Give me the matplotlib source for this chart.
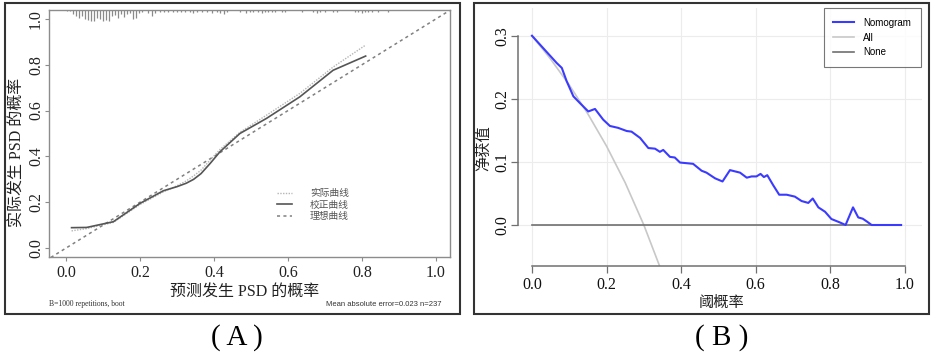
import matplotlib
matplotlib.use("Agg")
import matplotlib.pyplot as plt
from matplotlib.patches import Rectangle

plt.rcParams['font.family'] = ['Liberation Serif', 'Noto Sans CJK SC']

# ---- (A) calibration curve ----
cal_pred = [0.015, 0.056, 0.128, 0.2, 0.263, 0.30, 0.325, 0.345, 0.365, 0.39, 0.416,
            0.47, 0.542, 0.632, 0.722, 0.81]
cal_corrected = [0.089, 0.09, 0.115, 0.195, 0.25, 0.268, 0.283, 0.3, 0.325, 0.37, 0.42,
                 0.5, 0.566, 0.66, 0.776, 0.838]
cal_apparent = [0.075, 0.085, 0.112, 0.19, 0.245, 0.272, 0.293, 0.315, 0.34, 0.385, 0.43,
                0.505, 0.58, 0.675, 0.79, 0.886]

# distribution of predicted probabilities (spikes at the top)
rug_x = [0.002, 0.011, 0.020, 0.027, 0.035, 0.043, 0.051, 0.059, 0.068, 0.076,
         0.084, 0.092, 0.101, 0.109, 0.117, 0.125, 0.133, 0.141, 0.149, 0.157,
         0.165, 0.173, 0.181, 0.188, 0.196, 0.205, 0.221, 0.232, 0.241, 0.254,
         0.265, 0.277, 0.288, 0.299, 0.310, 0.322, 0.335, 0.344, 0.355, 0.367,
         0.380, 0.394, 0.407, 0.416, 0.427, 0.434,
         0.470, 0.486, 0.497, 0.506, 0.520, 0.529, 0.538, 0.547, 0.556, 0.565,
         0.583, 0.592, 0.637, 0.668, 0.678, 0.686, 0.700, 0.723, 0.732, 0.781,
         0.790, 0.799, 0.808, 0.817, 0.826, 0.844, 0.871]
rug_h = [0.004, 0.006, 0.019, 0.026, 0.034, 0.026, 0.041, 0.044, 0.048, 0.048,
         0.034, 0.038, 0.048, 0.044, 0.048, 0.026, 0.023, 0.034, 0.019, 0.029,
         0.019, 0.015, 0.041, 0.034, 0.015, 0.007, 0.012, 0.026, 0.015, 0.009,
         0.007, 0.007, 0.007, 0.007, 0.007, 0.007, 0.007, 0.012, 0.007, 0.009,
         0.007, 0.012, 0.007, 0.015, 0.019, 0.007,
         0.008, 0.011, 0.008, 0.008, 0.008, 0.011, 0.008, 0.008, 0.008, 0.008,
         0.008, 0.008, 0.008, 0.008, 0.011, 0.008, 0.008, 0.008, 0.008, 0.008,
         0.008, 0.011, 0.008, 0.008, 0.008, 0.008, 0.008]

# ---- (B) decision curve ----
thr = [0.0, 0.066, 0.08, 0.093, 0.111, 0.129, 0.151, 0.169, 0.191, 0.209,
       0.231, 0.254, 0.267, 0.29, 0.312, 0.33, 0.343, 0.352, 0.37, 0.383,
       0.397, 0.432, 0.455, 0.468, 0.491, 0.511, 0.531, 0.558, 0.576, 0.589,
       0.602, 0.613, 0.622, 0.631, 0.647, 0.663, 0.683, 0.705, 0.723, 0.741,
       0.753, 0.768, 0.786, 0.803, 0.826, 0.841, 0.861, 0.875, 0.887, 0.897,
       0.911, 0.99]
nb_nomogram = [0.30, 0.257, 0.249, 0.228, 0.204, 0.193, 0.18, 0.184, 0.167, 0.157,
               0.154, 0.149, 0.148, 0.138, 0.122, 0.121, 0.116, 0.119, 0.108, 0.107,
               0.099, 0.097, 0.086, 0.083, 0.074, 0.069, 0.087, 0.083, 0.075, 0.077,
               0.077, 0.081, 0.076, 0.079, 0.063, 0.048, 0.048, 0.045, 0.038, 0.035,
               0.042, 0.028, 0.021, 0.0095, 0.004, 0.0, 0.028, 0.012, 0.010, 0.006,
               0.0, 0.0]
thr_all = [0.0, 0.05, 0.1, 0.15, 0.2, 0.25, 0.3, 0.35]
nb_all = [0.3, 0.263, 0.222, 0.176, 0.125, 0.067, 0.0, -0.077]
thr_none = [0.0, 0.99]
nb_none = [0.0, 0.0]

ticks01 = [0.0, 0.2, 0.4, 0.6, 0.8, 1.0]
ticks_nb = [0.0, 0.1, 0.2, 0.3]

W, H = 935, 361
fig = plt.figure(figsize=(W / 100, H / 100), dpi=100)


def box(l, t, r, b):
    # pixel box -> figure fraction rect
    return [l / W, 1 - b / H, (r - l) / W, (b - t) / H]


# panel frames
for l, r in [(5, 460), (474, 929)]:
    fig.patches.append(Rectangle((l / W, 1 - 314 / H), (r - l) / W, 311 / H,
                                 transform=fig.transFigure, fill=False,
                                 edgecolor='#333333', lw=1.5))

# ---------- A ----------
ax = fig.add_axes(box(49, 10, 450, 257))
ax.set_xlim(-0.046, 1.038)
ax.set_ylim(-0.039, 1.039)
ax.plot([-0.1, 1.1], [-0.1, 1.1], color='#808080', lw=1.1, ls=(0, (2, 2.2)), label='理想曲线')
ax.plot(cal_pred, cal_apparent, color='#b5b5b5', lw=1.0, ls=(0, (1, 1)), label='实际曲线')
ax.plot(cal_pred, cal_corrected, color='#555555', lw=1.2, label='校正曲线')
top = ax.get_ylim()[1]
ax.vlines(rug_x, [top - h for h in rug_h], top, color='#8a8a8a', lw=0.9)

for s in ax.spines.values():
    s.set_color('#8c8c8c')
    s.set_linewidth(1.0)
ax.set_xticks(ticks01)
ax.set_yticks(ticks01)
ax.set_xticklabels(['%.1f' % t for t in ticks01])
ax.set_yticklabels(['%.1f' % t for t in ticks01], rotation=90, va='center')
ax.tick_params(length=3, width=0.8, color='#8c8c8c', labelsize=11.5,
               labelcolor='#222222', pad=0.5)
ax.tick_params(axis='x', pad=3)

ax.set_xlabel('预测发生 PSD 的概率', fontsize=11.5, color='#222222', va='center')
ax.xaxis.set_label_coords((245 - 49) / 401, (257 - 292) / 247)
ax.set_ylabel('实际发生 PSD 的概率', fontsize=11.5, color='#222222', va='center')
ax.yaxis.set_label_coords((18 - 49) / 401, (257 - 152) / 247)

h = ax.get_legend_handles_labels()[0]
ax.legend([h[1], h[2], h[0]], ['实际曲线', '校正曲线', '理想曲线'], frameon=False,
          loc='upper left', bbox_to_anchor=(272 / W, 1 - 184 / H),
          bbox_transform=fig.transFigure, fontsize=7, handlelength=1.6,
          handletextpad=1.8, labelspacing=0.25, borderpad=0, labelcolor='#555555')

fig.text(49 / W, 1 - 304 / H, 'B=1000 repetitions, boot', fontsize=5.5,
         color='#333333', va='center', ha='left')
fig.text(441 / W, 1 - 304 / H, 'Mean absolute error=0.023 n=237', fontsize=5.5,
         color='#333333', va='center', ha='right', family='Liberation Sans')

# ---------- B ----------
bx = fig.add_axes(box(518, 8, 922, 266))
bx.set_xlim(-0.0375, 1.046)
bx.set_ylim(-0.065, 0.344)
bx.grid(True, color='#ececec', lw=0.8)
bx.set_axisbelow(True)
bx.plot(thr_all, nb_all, color='#c8c8c8', lw=1.2, label='All')
bx.plot(thr_none, nb_none, color='#707070', lw=1.2, label='None')
bx.plot(thr, nb_nomogram, color='#3b3bff', lw=1.5, label='Nomogram')

for k in ['top', 'right']:
    bx.spines[k].set_visible(False)
for k in ['left', 'bottom']:
    bx.spines[k].set_color('#707070')
    bx.spines[k].set_linewidth(1.1)
bx.spines['bottom'].set_bounds(0, 1)
bx.spines['left'].set_bounds(0, 0.3)
bx.set_xticks(ticks01)
bx.set_yticks(ticks_nb)
bx.set_xticklabels(['%.1f' % t for t in ticks01])
bx.set_yticklabels(['%.1f' % t for t in ticks_nb], rotation=90, va='center')
bx.tick_params(length=5, width=0.9, color='#707070', labelsize=11.5,
               labelcolor='#111111', pad=0.5)
bx.tick_params(axis='x', pad=3)

bx.set_xlabel('阈概率', fontsize=11, color='#222222', va='center')
bx.xaxis.set_label_coords((722 - 518) / 404, (266 - 303) / 258)
bx.set_ylabel('净获值', fontsize=11, color='#222222', va='center')
bx.yaxis.set_label_coords((484 - 518) / 404, (266 - 148) / 258)

hb, lb = bx.get_legend_handles_labels()
leg = bx.legend([hb[2], hb[0], hb[1]], ['Nomogram', 'All', 'None'],
                loc='upper right', bbox_to_anchor=(921 / W, 1 - 8 / H),
                bbox_transform=fig.transFigure, fancybox=False,
                edgecolor='#555555', handlelength=2.1, handletextpad=1.0,
                labelspacing=0.5, borderpad=1.0, borderaxespad=0,
                prop={'family': 'Liberation Sans', 'size': 7})
leg.get_frame().set_linewidth(0.8)

fig.text(237 / W, 1 - 338 / H, '( A )', fontsize=21, ha='center', va='center')
fig.text(722 / W, 1 - 338 / H, '( B )', fontsize=21, ha='center', va='center')

fig.savefig('out.png', dpi=100)
